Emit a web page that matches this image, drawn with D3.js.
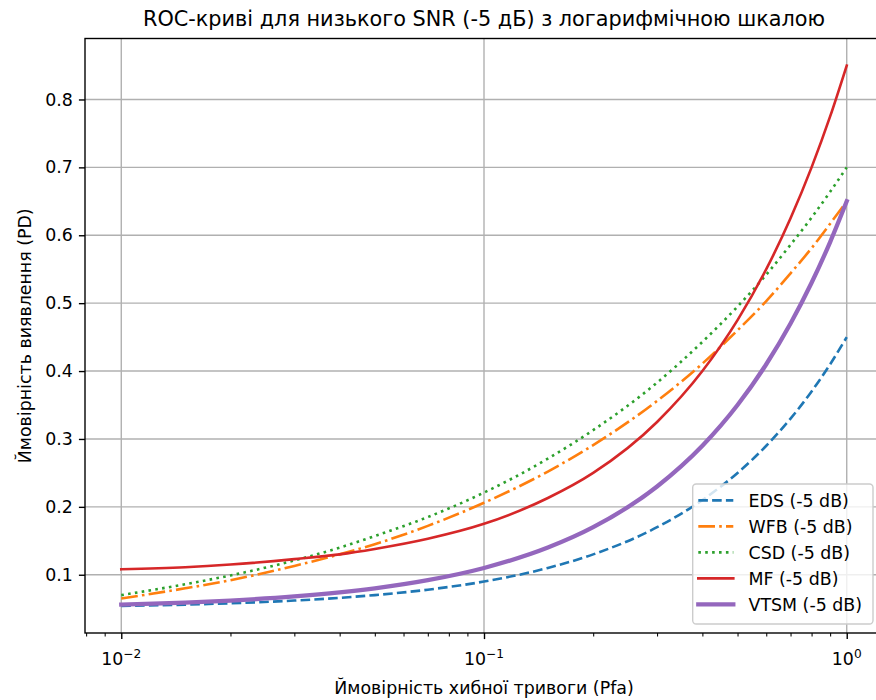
<!DOCTYPE html>
<html>
<head>
<meta charset="utf-8">
<script src="https://cdn.jsdelivr.net/npm/d3@7"></script>
<style>
  html, body { margin: 0; padding: 0; background: #fff; }
  svg { display: block; font-family: "DejaVu Sans", sans-serif; }
</style>
</head>
<body>
<svg id="chart"></svg>
<script>
// chart values
const pfa  = [0.01, 0.015, 0.02, 0.03, 0.04, 0.05, 0.07, 0.1, 0.15, 0.2, 0.3, 0.4, 0.5, 0.6, 0.7, 0.8, 0.9, 1.0];
const eds  = [0.054, 0.056, 0.058, 0.062, 0.066, 0.070, 0.078, 0.090, 0.110, 0.130, 0.170, 0.210, 0.250, 0.290, 0.330, 0.370, 0.410, 0.450];
const wfb  = [0.065, 0.080, 0.092, 0.113, 0.130, 0.145, 0.172, 0.206, 0.252, 0.291, 0.356, 0.411, 0.460, 0.503, 0.544, 0.581, 0.617, 0.650];
const csd  = [0.070, 0.086, 0.099, 0.121, 0.140, 0.157, 0.185, 0.221, 0.271, 0.313, 0.383, 0.443, 0.495, 0.542, 0.586, 0.626, 0.664, 0.700];
const mf   = [0.108, 0.111, 0.115, 0.123, 0.130, 0.138, 0.153, 0.175, 0.213, 0.250, 0.325, 0.400, 0.475, 0.550, 0.625, 0.700, 0.775, 0.850];
const vtsm = [0.056, 0.059, 0.062, 0.068, 0.074, 0.080, 0.092, 0.110, 0.140, 0.170, 0.230, 0.290, 0.350, 0.410, 0.470, 0.530, 0.590, 0.650];

const seriesNames = ["EDS (-5 dB)", "WFB (-5 dB)", "CSD (-5 dB)", "MF (-5 dB)", "VTSM (-5 dB)"];
const seriesValues = [eds, wfb, csd, mf, vtsm];

const xTicks = [0.01, 0.1, 1];
const xTickExp = ["\u22122", "\u22121", "0"];
const yTicks = [0.1, 0.2, 0.3, 0.4, 0.5, 0.6, 0.7, 0.8];

const titleText = "ROC-криві для низького SNR (-5 дБ) з логарифмічною шкалою";
const xLabelText = "Ймовірність хибної тривоги (Pfa)";
const yLabelText = "Ймовірність виявлення (PD)";

// styles (matplotlib defaults at ~125 dpi)
const colors = ["#1f77b4", "#ff7f0e", "#2ca02c", "#d62728", "#9467bd"];
const dashes = ["9.6,4.2", "16.7,4.2,2.6,4.2", "2.6,4.3", null, null];
const widths = [2.6, 2.6, 2.6, 2.6, 4.3];

const chartWidth = 876;
const chartHeight = 700;
const fontSize = 17.4;

// the axes box (right edge falls just outside the picture)
const axLeft = 85, axRight = 883, axTop = 38.5, axBottom = 633;

const svg = d3.select("#chart")
    .attr("width", chartWidth)
    .attr("height", chartHeight);

const x = d3.scaleLog()
    .domain([Math.pow(10, -2.1), Math.pow(10, 0.1)])
    .range([axLeft, axRight]);

const y = d3.scaleLinear()
    .domain([0.0142, 0.8898])
    .range([axBottom, axTop]);

// grid
const gGrid = svg.append("g")
    .attr("stroke", "#b0b0b0")
    .attr("stroke-width", 1.39);

gGrid.selectAll("line.gx").data(xTicks).join("line")
    .attr("class", "gx")
    .attr("x1", d => x(d)).attr("x2", d => x(d))
    .attr("y1", axTop).attr("y2", axBottom);

gGrid.selectAll("line.gy").data(yTicks).join("line")
    .attr("class", "gy")
    .attr("x1", axLeft).attr("x2", axRight)
    .attr("y1", d => y(d)).attr("y2", d => y(d));

// curves
const line = d3.line()
    .x(d => x(d[0]))
    .y(d => y(d[1]))
    .curve(d3.curveMonotoneX);

const gLines = svg.append("g").attr("fill", "none");

seriesValues.forEach((vals, i) => {
  gLines.append("path")
    .datum(pfa.map((p, j) => [p, vals[j]]))
    .attr("d", line)
    .attr("stroke", colors[i])
    .attr("stroke-width", widths[i])
    .attr("stroke-dasharray", dashes[i])
    .attr("stroke-linecap", dashes[i] ? "butt" : "square")
    .attr("stroke-linejoin", "round");
});

// x axis (log) with minor ticks
const xAxis = d3.axisBottom(x)
    .tickValues(xTicks)
    .tickSizeOuter(0)
    .tickSize(6.1)
    .tickFormat("");

const minorTicks = [];
[0.001, 0.01, 0.1].forEach(base => {
  for (let k = 2; k <= 9; k++) {
    const v = base * k;
    if (v >= x.domain()[0] && v <= x.domain()[1]) minorTicks.push(v);
  }
});

const xMinor = d3.axisBottom(x)
    .tickValues(minorTicks)
    .tickSizeOuter(0)
    .tickSize(3.5)
    .tickFormat("");

const gxMinor = svg.append("g")
    .attr("transform", `translate(0,${axBottom})`)
    .call(xMinor);
gxMinor.select(".domain").remove();
gxMinor.selectAll(".tick line").attr("stroke", "#000").attr("stroke-width", 1.04);

const gx = svg.append("g")
    .attr("transform", `translate(0,${axBottom})`)
    .call(xAxis);
gx.select(".domain").remove();
gx.selectAll(".tick line").attr("stroke", "#000").attr("stroke-width", 1.39);

// x tick labels as 10^n
const xLab = svg.append("g")
    .attr("font-size", fontSize)
    .attr("fill", "#000")
    .attr("text-anchor", "middle");

xTicks.forEach((t, i) => {
  const txt = xLab.append("text")
      .attr("x", x(t))
      .attr("y", 665);
  txt.append("tspan").text("10");
  txt.append("tspan")
      .attr("font-size", fontSize * 0.7)
      .attr("dy", -7)
      .text(xTickExp[i]);
});

// y axis
const yAxis = d3.axisLeft(y)
    .tickValues(yTicks)
    .tickSizeOuter(0)
    .tickSize(6.1)
    .tickPadding(6.1)
    .tickFormat(d3.format(".1f"));

const gy = svg.append("g")
    .attr("transform", `translate(${axLeft},0)`)
    .call(yAxis);
gy.select(".domain").remove();
gy.selectAll(".tick line").attr("stroke", "#000").attr("stroke-width", 1.39);
gy.selectAll(".tick text")
    .attr("font-size", fontSize)
    .attr("font-family", "DejaVu Sans")
    .attr("fill", "#000");

// spines
svg.append("rect")
    .attr("x", axLeft).attr("y", axTop)
    .attr("width", axRight - axLeft).attr("height", axBottom - axTop)
    .attr("fill", "none")
    .attr("stroke", "#000")
    .attr("stroke-width", 1.39);

// title and axis labels
svg.append("text")
    .attr("x", (axLeft + axRight) / 2)
    .attr("y", 26)
    .attr("text-anchor", "middle")
    .attr("font-size", 20.8)
    .text(titleText);

svg.append("text")
    .attr("x", (axLeft + axRight) / 2)
    .attr("y", 694)
    .attr("text-anchor", "middle")
    .attr("font-size", fontSize)
    .text(xLabelText);

svg.append("text")
    .attr("transform", `translate(31,${(axTop + axBottom) / 2}) rotate(-90)`)
    .attr("text-anchor", "middle")
    .attr("font-size", fontSize)
    .text(yLabelText);

// legend (lower right)
const legX = 692.7, legY = 484, legW = 180.3, legH = 140;
const gLeg = svg.append("g");

gLeg.append("rect")
    .attr("x", legX).attr("y", legY)
    .attr("width", legW).attr("height", legH)
    .attr("rx", 3.5).attr("ry", 3.5)
    .attr("fill", "#fff")
    .attr("fill-opacity", 0.8)
    .attr("stroke", "#cccccc")
    .attr("stroke-width", 1.39);

seriesNames.forEach((name, i) => {
  const base = 506.7 + i * 26;
  const ly = base - 6.3;
  gLeg.append("line")
      .attr("x1", 698.3).attr("x2", 733.3)
      .attr("y1", ly).attr("y2", ly)
      .attr("stroke", colors[i])
      .attr("stroke-width", widths[i])
      .attr("stroke-dasharray", dashes[i])
      .attr("stroke-linecap", dashes[i] ? "butt" : "square");
  gLeg.append("text")
      .attr("x", 748.5)
      .attr("y", base)
      .attr("font-size", fontSize)
      .attr("fill", "#000")
      .text(name);
});
</script>
</body>
</html>
